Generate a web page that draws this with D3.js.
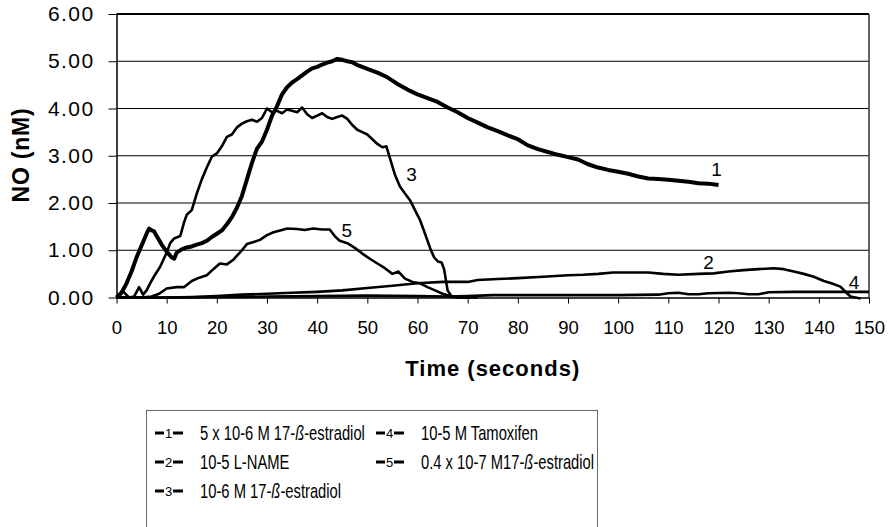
<!DOCTYPE html>
<html>
<head>
<meta charset="utf-8">
<script src="https://cdn.jsdelivr.net/npm/d3@7"></script>
<style>
  body { margin: 0; background: #fff; }
  text { font-family: "Liberation Sans", Arial, sans-serif; fill: #000; }
</style>
</head>
<body>
<div id="chart"></div>
<script>
// data (time in seconds, NO in nM)
var t1 = [0, 1, 2, 3, 4, 5, 6, 6.5, 7, 7.5, 8, 9, 10, 11, 11.5, 12, 13, 14, 15, 16, 17, 18, 19, 20, 21, 22, 23, 24, 25, 26, 27, 28, 29, 30, 31, 32, 33, 34, 35, 36, 37, 38, 39, 40, 41, 42, 43, 44, 45, 46, 47, 48, 49, 50, 52, 54, 56, 58, 60, 62, 64, 66, 68, 70, 72, 74, 76, 78, 80, 82, 84, 86, 88, 90, 92, 94, 96, 98, 100, 102, 104, 106, 108, 110, 112, 114, 116, 118, 120];
var v1 = [0, 0.1, 0.3, 0.55, 0.85, 1.1, 1.35, 1.46, 1.42, 1.4, 1.3, 1.12, 0.97, 0.85, 0.82, 0.95, 1.02, 1.06, 1.08, 1.12, 1.15, 1.2, 1.28, 1.35, 1.42, 1.55, 1.7, 1.9, 2.15, 2.5, 2.85, 3.15, 3.3, 3.55, 3.85, 4.05, 4.3, 4.45, 4.55, 4.62, 4.7, 4.78, 4.85, 4.88, 4.93, 4.97, 5.0, 5.05, 5.03, 5.0, 4.98, 4.92, 4.88, 4.84, 4.76, 4.66, 4.52, 4.4, 4.3, 4.22, 4.14, 4.02, 3.92, 3.8, 3.7, 3.6, 3.52, 3.43, 3.35, 3.22, 3.14, 3.08, 3.02, 2.97, 2.92, 2.82, 2.75, 2.7, 2.66, 2.62, 2.56, 2.52, 2.51, 2.49, 2.47, 2.45, 2.42, 2.41, 2.38];

var t2 = [0, 10, 15, 20, 25, 30, 35, 40, 45, 50, 55, 60, 65, 70, 72, 76, 80, 85, 90, 93, 96, 99, 102, 106, 109, 112, 116, 119, 122, 125, 128, 131, 133, 135, 137, 139, 141, 142.5, 144.3, 145.5, 146.3, 148.3];
var v2 = [0, 0, 0.01, 0.03, 0.06, 0.08, 0.1, 0.12, 0.15, 0.2, 0.25, 0.3, 0.33, 0.33, 0.37, 0.39, 0.41, 0.44, 0.47, 0.48, 0.5, 0.53, 0.53, 0.53, 0.5, 0.48, 0.5, 0.51, 0.55, 0.58, 0.6, 0.62, 0.6, 0.55, 0.5, 0.44, 0.35, 0.3, 0.23, 0.1, 0.02, -0.02];

var t3 = [0, 1.2, 2.5, 3.5, 4.5, 5.3, 6, 6.7, 7.5, 8.7, 10, 10.7, 11.5, 12.7, 13.5, 14, 15, 16, 17, 18, 19, 20, 21, 22, 23, 24, 25, 26, 27, 28, 29, 30, 31, 32, 33, 34, 35, 36, 37, 38, 39, 40, 41, 42, 43, 44, 45, 46, 47, 48, 49, 50, 51, 52, 53, 53.8, 54.5, 55.5, 56.5, 57.5, 58.5, 59.5, 60.5, 61.5, 62.5, 63.3, 64.1, 64.8, 65.3, 66, 66.8, 68, 70];
var v3 = [0, 0.14, 0, 0.02, 0.22, 0.06, 0.15, 0.3, 0.45, 0.65, 0.95, 1.15, 1.25, 1.3, 1.6, 1.75, 1.85, 2.2, 2.5, 2.75, 2.98, 3.05, 3.2, 3.4, 3.45, 3.6, 3.68, 3.73, 3.76, 3.72, 3.8, 4.0, 3.92, 3.95, 3.9, 3.98, 3.95, 3.92, 4.02, 3.88, 3.8, 3.85, 3.9, 3.82, 3.78, 3.82, 3.85, 3.78, 3.65, 3.55, 3.5, 3.45, 3.35, 3.25, 3.18, 3.2, 2.95, 2.6, 2.35, 2.2, 2.06, 1.85, 1.64, 1.35, 1.05, 0.85, 0.76, 0.74, 0.6, 0.15, 0.02, 0, 0];

var t4 = [0, 10, 20, 30, 40, 50, 60, 66, 70, 75, 80, 90, 100, 108, 110, 112, 114, 116, 118, 122, 124, 126, 128, 130, 135, 140, 145, 150];
var v4 = [0, 0, 0.01, 0.02, 0.03, 0.04, 0.03, 0.02, 0.03, 0.05, 0.05, 0.05, 0.05, 0.06, 0.09, 0.1, 0.07, 0.07, 0.09, 0.1, 0.09, 0.07, 0.07, 0.11, 0.12, 0.12, 0.12, 0.12];

var t5 = [0, 5, 7, 8.5, 10, 12, 13.5, 15, 16.5, 18, 19.3, 20.6, 22, 23.3, 25, 26, 27.5, 28.6, 30, 31.3, 33, 34, 36, 37.5, 39.2, 41, 42.5, 43.5, 44.5, 46, 47.5, 49, 50.5, 52, 53.5, 55, 56.2, 57.5, 59, 60.5, 62, 63.5, 65, 66.5, 68, 72];
var v5 = [0, 0, 0.02, 0.08, 0.19, 0.22, 0.22, 0.35, 0.42, 0.47, 0.6, 0.72, 0.7, 0.8, 1.0, 1.13, 1.18, 1.22, 1.32, 1.38, 1.43, 1.46, 1.45, 1.43, 1.46, 1.44, 1.44, 1.3, 1.2, 1.15, 1.05, 0.93, 0.82, 0.72, 0.62, 0.5, 0.55, 0.4, 0.33, 0.3, 0.22, 0.15, 0.08, 0.03, 0, 0];

var seriesNames = ['5 x 10-6 M 17-', '10-5 L-NAME', '10-6 M 17-', '10-5 M Tamoxifen', '0.4 x 10-7 M17-'];
var seriesTimes = [t1, t2, t3, t4, t5];
var seriesValues = [v1, v2, v3, v4, v5];

// inline curve labels: [label, time, value]
var curveLabels = [['1', 119.6, 2.72], ['2', 118, 0.74], ['3', 58.8, 2.6], ['4', 147, 0.33], ['5', 45.9, 1.43]];

var xTicks = [0, 10, 20, 30, 40, 50, 60, 70, 80, 90, 100, 110, 120, 130, 140, 150];
var yTicks = [0, 1, 2, 3, 4, 5, 6];

var W = 893, H = 527;
var margin = {top: 14, left: 116.5, right: 24, bottom: 229.5};
var width = W - margin.left - margin.right,
  height = H - margin.top - margin.bottom;

var svg = d3.select('#chart')
  .append('svg')
  .attr('width', W)
  .attr('height', H);

var g = svg.append('g')
  .attr('transform', 'translate(' + margin.left + ',' + margin.top + ')');

var x = d3.scaleLinear().domain([0, 150]).range([0, width]);
var y = d3.scaleLinear().domain([0, 6]).range([height, 0]);

// gridlines
g.selectAll('.grid')
  .data(yTicks.slice(1, 6))
  .enter()
  .append('line')
  .attr('x1', 0)
  .attr('x2', width)
  .attr('y1', function (d) { return y(d); })
  .attr('y2', function (d) { return y(d); })
  .attr('stroke', '#000')
  .attr('stroke-width', 1);

// top and right frame
g.append('line').attr('x1', 0).attr('x2', width).attr('y1', 0).attr('y2', 0)
  .attr('stroke', '#000').attr('stroke-width', 2);
g.append('line').attr('x1', width).attr('x2', width).attr('y1', 0).attr('y2', height)
  .attr('stroke', '#333').attr('stroke-width', 1.5);

// Y axis
var yAxis = g.append('g')
  .call(d3.axisLeft(y).tickValues(yTicks).tickFormat(d3.format('.2f')).tickSize(8).tickSizeOuter(0).tickPadding(14));
yAxis.select('.domain').attr('stroke', '#000').attr('stroke-width', 1.5);
yAxis.selectAll('.tick line').attr('stroke', '#000');
yAxis.selectAll('text')
  .style('font-size', '21px')
  .style('letter-spacing', '1.4px')
  .attr('fill', '#000');

// X axis
var xAxis = g.append('g')
  .attr('transform', 'translate(0,' + height + ')')
  .call(d3.axisBottom(x).tickValues(xTicks).tickSize(6).tickSizeOuter(0).tickPadding(17));
xAxis.select('.domain').attr('stroke', '#000').attr('stroke-width', 1.5);
xAxis.selectAll('.tick line').attr('stroke', '#000');
xAxis.selectAll('text')
  .style('font-size', '18.5px')
  .attr('fill', '#000');

// lines
var line = d3.line()
  .x(function (d) { return x(d[0]); })
  .y(function (d) { return y(d[1]); });

seriesTimes.forEach(function (ts, i) {
  var pts = ts.map(function (t, j) { return [t, seriesValues[i][j]]; });
  g.append('path')
    .datum(pts)
    .attr('fill', 'none')
    .attr('stroke', '#000')
    .attr('stroke-width', i === 0 ? 4 : 2.6)
    .attr('stroke-linejoin', 'round')
    .attr('d', line);
});

// curve labels
g.selectAll('.clabel')
  .data(curveLabels)
  .enter()
  .append('text')
  .attr('x', function (d) { return x(d[1]); })
  .attr('y', function (d) { return y(d[2]); })
  .attr('text-anchor', 'middle')
  .attr('dy', '0.35em')
  .style('font-size', '19px')
  .text(function (d) { return d[0]; });

// axis titles
svg.append('text')
  .attr('transform', 'translate(29,155) rotate(-90)')
  .attr('text-anchor', 'middle')
  .style('font-size', '23px')
  .style('font-weight', 'bold')
  .style('letter-spacing', '0.8px')
  .text('NO (nM)');

svg.append('text')
  .attr('x', margin.left + width / 2)
  .attr('y', 376)
  .attr('text-anchor', 'middle')
  .style('font-size', '22px')
  .style('font-weight', 'bold')
  .style('letter-spacing', '1px')
  .text('Time (seconds)');

// legend
var lg = svg.append('g');
lg.append('rect')
  .attr('x', 146.5).attr('y', 410.5)
  .attr('width', 451).attr('height', 130)
  .attr('fill', 'none')
  .attr('stroke', '#666')
  .attr('stroke-width', 1);

var legendPos = [[155, 433], [155, 462], [155, 491], [376, 433], [376, 462]];

seriesNames.forEach(function (name, i) {
  var p = legendPos[i];
  var item = lg.append('g').attr('transform', 'translate(' + p[0] + ',' + p[1] + ')');
  item.append('line').attr('x1', 0).attr('x2', 9).attr('y1', 0).attr('y2', 0)
    .attr('stroke', '#000').attr('stroke-width', 3);
  item.append('line').attr('x1', 18).attr('x2', 28).attr('y1', 0).attr('y2', 0)
    .attr('stroke', '#000').attr('stroke-width', 3);
  item.append('text')
    .attr('x', 13.5).attr('y', 0).attr('dy', '0.36em')
    .attr('text-anchor', 'middle')
    .style('font-size', '13px')
    .text(String(i + 1));
  var txt = item.append('text')
    .attr('transform', 'translate(45,0) scale(0.72,1)')
    .attr('dy', '0.36em')
    .style('font-size', '20.5px');
  txt.append('tspan').text(name);
  if (name.slice(-1) === '-') {
    txt.append('tspan').style('font-style', 'italic').text('ß');
    txt.append('tspan').text('-estradiol');
  }
});
</script>
</body>
</html>
